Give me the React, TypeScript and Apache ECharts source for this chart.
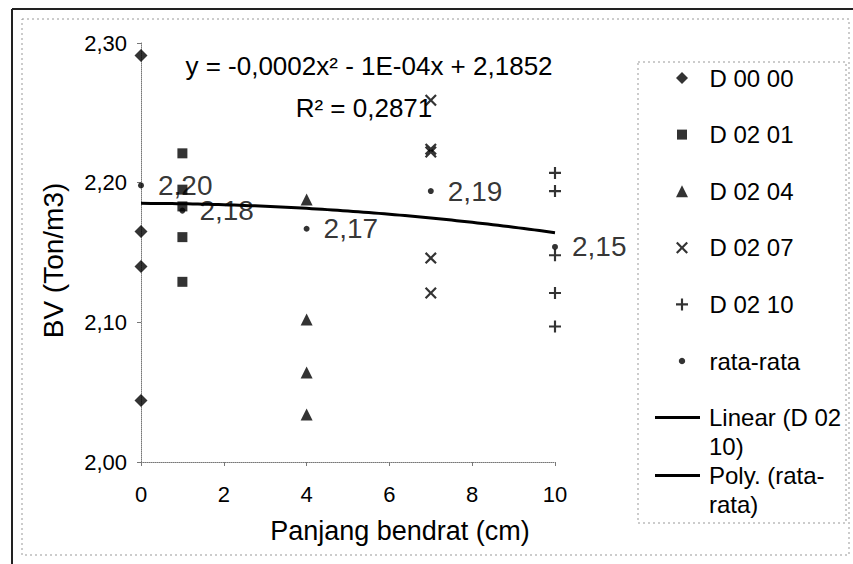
import React, { useEffect, useRef } from "react";
import * as echarts from "echarts";

// ---- data ----
const SERIES_NAMES = ["D 00 00", "D 02 01", "D 02 04", "D 02 07", "D 02 10", "rata-rata"];
const SERIES_X = [0, 1, 4, 7, 10]; // panjang bendrat (cm) of each sample group
const D0000 = [2.291, 2.165, 2.14, 2.044];
const D0201 = [2.221, 2.195, 2.183, 2.161, 2.129];
const D0204 = [2.188, 2.102, 2.064, 2.034];
const D0207 = [2.259, 2.224, 2.222, 2.146, 2.121];
const D0210 = [2.207, 2.194, 2.148, 2.121, 2.097];
const RATA = [2.198, 2.18, 2.167, 2.194, 2.154];
const TREND_NAMES = ["Linear (D 02 10)", "Poly. (rata-rata)"];
const TREND_LABELS = ["Linear (D 02\n10)", "Poly. (rata-\nrata)"];
const POLY_COEF = [2.1852, -0.0001, -0.0002]; // c0 + c1 x + c2 x^2 (from the chart's equation)
const EQUATION = "y = -0,0002x² - 1E-04x + 2,1852";
const R_SQUARED = "R² = 0,2871";
const X_MIN = 0, X_MAX = 10, X_STEP = 2;
const Y_MIN = 2.0, Y_MAX = 2.3, Y_STEP = 0.1;

const FONT = "'Liberation Sans', Arial, sans-serif";
const CROSS_X = "path://M0,1.3L1.3,0L5,3.7L8.7,0L10,1.3L6.3,5L10,8.7L8.7,10L5,6.3L1.3,10L0,8.7L3.7,5Z";
const PLUS = "path://M4.1,0H5.9V4.1H10V5.9H5.9V10H4.1V5.9H0V4.1H4.1Z";
const DIAMOND_ICON = "path://M5,0L10,5L5,10L0,5Z";
const RECT_ICON = "path://M0,0M12,12M1,1H11V11H1Z";
const TRI_ICON = "path://M5,0L10,10H0Z";
const DOT_ICON = "path://M0,0M12,12M6,2.8A3.2,3.2,0,1,1,5.99,2.8Z";
const LINE_ICON = "path://M0,0M45,32M0,0H45V3H0Z";

export default function App() {
  const ref = useRef<HTMLDivElement>(null);

  useEffect(() => {
    if (!ref.current) return;
    const chart = echarts.init(ref.current, undefined, { renderer: "svg" });

    const groups = [D0000, D0201, D0204, D0207, D0210];
    const symbols: any[] = ["diamond", "rect", "triangle", CROSS_X, PLUS];
    const sizes: any[] = [13, 10, 12, 12, 12];
    const scatterSeries: any[] = groups.map((vals, i) => ({
      name: SERIES_NAMES[i],
      type: "scatter",
      symbol: symbols[i],
      symbolSize: sizes[i],
      itemStyle: { color: "#000" },
      data: vals.map((v) => [SERIES_X[i], v]),
      z: 3,
    }));
    scatterSeries.push({
      name: SERIES_NAMES[5],
      type: "scatter",
      symbol: "circle",
      symbolSize: 6,
      itemStyle: { color: "#000" },
      data: RATA.map((v, i) => [SERIES_X[i], v]),
      label: {
        show: true,
        position: "right",
        distance: 14,
        fontSize: 28,
        fontFamily: FONT,
        color: "#000",
        formatter: (p: any) => p.value[1].toFixed(2).replace(".", ","),
      },
      z: 4,
    });

    const polyData: number[][] = [];
    for (let i = 0; i <= 40; i++) {
      const x = X_MIN + ((X_MAX - X_MIN) * i) / 40;
      polyData.push([x, POLY_COEF[0] + POLY_COEF[1] * x + POLY_COEF[2] * x * x]);
    }

    const lineSeries: any[] = [
      {
        name: TREND_NAMES[0],
        type: "line",
        symbol: "none",
        lineStyle: { color: "#000", width: 3 },
        itemStyle: { color: "#000" },
        data: [],
      },
      {
        name: TREND_NAMES[1],
        type: "line",
        symbol: "none",
        smooth: true,
        lineStyle: { color: "#000", width: 3 },
        itemStyle: { color: "#000" },
        data: polyData,
        z: 2,
      },
    ];

    const legendIcons = [DIAMOND_ICON, RECT_ICON, TRI_ICON, CROSS_X, PLUS, DOT_ICON];

    chart.setOption({
      animation: false,
      backgroundColor: "#fff",
      textStyle: { fontFamily: FONT },
      grid: { left: 141, right: 298, top: 43, bottom: 102, containLabel: false },
      xAxis: {
        type: "value",
        min: X_MIN,
        max: X_MAX,
        interval: X_STEP,
        name: "Panjang bendrat (cm)",
        nameLocation: "middle",
        nameGap: 55,
        nameTextStyle: { fontSize: 27, color: "#000", fontFamily: FONT, padding: [0, 0, 0, 104] },
        axisLine: { show: true, lineStyle: { color: "#777", type: "dotted", width: 1 } },
        axisTick: { show: true, length: 4, lineStyle: { color: "#777" } },
        axisLabel: { fontSize: 22, color: "#000", margin: 21, fontFamily: FONT },
        splitLine: { show: false },
      },
      yAxis: {
        type: "value",
        min: Y_MIN,
        max: Y_MAX,
        interval: Y_STEP,
        name: "BV (Ton/m3)",
        nameLocation: "middle",
        nameGap: 74,
        nameRotate: 90,
        nameTextStyle: { fontSize: 28, color: "#000", fontFamily: FONT, padding: [0, 16, 0, 0] },
        axisLine: { show: true, lineStyle: { color: "#777", type: "dotted", width: 1 } },
        axisTick: { show: true, length: 4, lineStyle: { color: "#777" } },
        axisLabel: {
          fontSize: 22,
          color: "#000",
          margin: 14,
          fontFamily: FONT,
          formatter: (v: number) => v.toFixed(2).replace(".", ","),
        },
        splitLine: { show: false },
      },
      legend: [
        {
          orient: "vertical",
          left: 676,
          top: 64,
          padding: 0,
          itemWidth: 45,
          itemHeight: 12,
          itemGap: 28.6,
          selectedMode: false,
          textStyle: { fontSize: 24, lineHeight: 28, color: "#000", fontFamily: FONT },
          data: SERIES_NAMES.map((n, i) => ({ name: n, icon: legendIcons[i] })),
        },
        {
          orient: "vertical",
          left: 655,
          top: 403,
          padding: 0,
          itemWidth: 45,
          itemHeight: 32,
          itemGap: 0,
          selectedMode: false,
          formatter: (name: string) => TREND_LABELS[TREND_NAMES.indexOf(name)],
          textStyle: { fontSize: 24, lineHeight: 29, color: "#000", fontFamily: FONT, padding: [0, 0, 0, 4] },
          data: TREND_NAMES.map((n) => ({ name: n, icon: LINE_ICON, itemStyle: { color: "#000" } })),
        },
      ],
      graphic: [
        { type: "line", shape: { x1: 12, y1: 9, x2: 853, y2: 9 }, style: { stroke: "#222", lineWidth: 2 } },
        { type: "line", shape: { x1: 12, y1: 9, x2: 12, y2: 564 }, style: { stroke: "#222", lineWidth: 2 } },
        {
          type: "rect",
          shape: { x: 22, y: 19, width: 827, height: 536 },
          style: { fill: "none", stroke: "#999", lineWidth: 1, lineDash: [2, 3] },
        },
        {
          type: "rect",
          shape: { x: 638, y: 62, width: 208, height: 461 },
          style: { fill: "none", stroke: "#999", lineWidth: 1, lineDash: [2, 3] },
        },
        {
          type: "text",
          x: 369,
          y: 66,
          style: { text: EQUATION, fontSize: 26, fontFamily: FONT, fill: "#000", align: "center", verticalAlign: "middle" },
          z: 10,
        },
        {
          type: "text",
          x: 364,
          y: 108,
          style: { text: R_SQUARED, fontSize: 26, fontFamily: FONT, fill: "#000", align: "center", verticalAlign: "middle" },
          z: 10,
        },
      ],
      series: [...scatterSeries, ...lineSeries],
    });

    return () => chart.dispose();
  }, []);

  return (
    <div
      ref={ref}
      style={{ position: "fixed", left: 0, top: 0, width: 853, height: 564, background: "#fff" }}
    />
  );
}
